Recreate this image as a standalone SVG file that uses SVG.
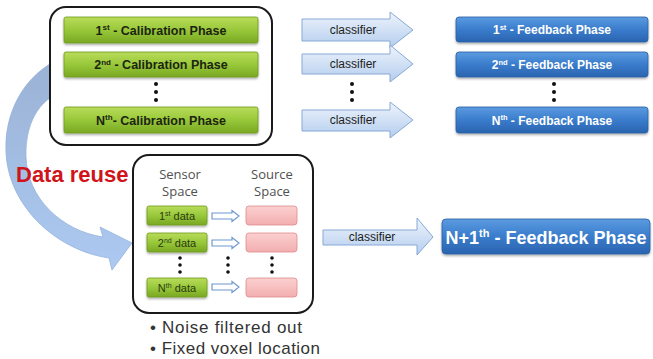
<svg xmlns="http://www.w3.org/2000/svg" width="653" height="359" viewBox="0 0 653 359">
  <defs>
    <linearGradient id="gGreen" x1="0" y1="0" x2="0" y2="1">
      <stop offset="0" stop-color="#b9dc5a"/>
      <stop offset="0.5" stop-color="#98c83a"/>
      <stop offset="1" stop-color="#79a822"/>
    </linearGradient>
    <linearGradient id="gBlue" x1="0" y1="0" x2="0" y2="1">
      <stop offset="0" stop-color="#5b9be0"/>
      <stop offset="0.5" stop-color="#3a7ccc"/>
      <stop offset="1" stop-color="#2a64b0"/>
    </linearGradient>
    <linearGradient id="gArrow" x1="0" y1="0" x2="0" y2="1">
      <stop offset="0" stop-color="#eef4fc"/>
      <stop offset="1" stop-color="#b4cdee"/>
    </linearGradient>
    <linearGradient id="gPink" x1="0" y1="0" x2="0" y2="1">
      <stop offset="0" stop-color="#fbd0d0"/>
      <stop offset="1" stop-color="#f3aeb0"/>
    </linearGradient>
    <linearGradient id="gCurve" x1="0" y1="0" x2="0" y2="1">
      <stop offset="0" stop-color="#95aed2"/>
      <stop offset="1" stop-color="#a9c7f2"/>
    </linearGradient>
    <filter id="shadow" x="-10%" y="-20%" width="120%" height="160%">
      <feDropShadow dx="0" dy="1.5" stdDeviation="1.2" flood-color="#000" flood-opacity="0.35"/>
    </filter>
    <style>
      .frame { fill: #ffffff; stroke: #1a1a1a; stroke-width: 2; }
      .green { fill: url(#gGreen); stroke: #6e9a1e; stroke-width: 0.8; filter: url(#shadow); }
      .blue { fill: url(#gBlue); stroke: #2b5fa4; stroke-width: 0.8; filter: url(#shadow); }
      .pink { fill: url(#gPink); stroke: #de8a8c; stroke-width: 0.8; }
      .clsArrow { fill: url(#gArrow); stroke: #86a8d6; stroke-width: 1; }
      .smallArrow { fill: #ffffff; stroke: #6f98d2; stroke-width: 1.2; }
      .tCal { font-family: "Liberation Sans", Arial, sans-serif; font-weight: bold; font-size: 12.5px; fill: #1c2410; text-anchor: middle; }
      .tFb { font-family: "Liberation Sans", Arial, sans-serif; font-weight: bold; font-size: 12px; fill: #ffffff; text-anchor: middle; }
      .tFbBig { font-family: "Liberation Sans", Arial, sans-serif; font-weight: bold; font-size: 18px; fill: #ffffff; text-anchor: middle; }
      .tCls { font-family: "Liberation Sans", Arial, sans-serif; font-size: 12px; fill: #1e1e1e; text-anchor: middle; }
      .tData { font-family: "Liberation Sans", Arial, sans-serif; font-size: 11px; fill: #2c3a12; text-anchor: middle; }
      .tSpace { font-family: "Open Sans", "Liberation Sans", sans-serif; font-size: 13px; fill: #505050; text-anchor: middle; }
      .tBullet { font-family: "Liberation Sans", Arial, sans-serif; font-size: 17px; fill: #333333; }
      .tReuse { font-family: "Liberation Sans", Arial, sans-serif; font-weight: bold; font-size: 22px; fill: #d0141a; }
      .dot { fill: #111111; }
    </style>
  </defs>

  <!-- curved "data reuse" arrow, drawn first so the frames sit over its tail -->
  <g id="reuse-arrow">
    <path d="M62,58 C25,73 4,112 6,152 C8,205 55,250 109,258 L112,270 L132,243 L100,227 L103,237 C62,231 27,198 26,157 C25,125 38,100 62,92 Z" fill="url(#gCurve)" stroke="#8eaedc" stroke-width="0.8" opacity="0.95"/>
  </g>

  <!-- calibration group -->
  <g id="calibration">
    <rect class="frame" x="50" y="7" width="222" height="138" rx="16"/>
    <rect class="green" x="64" y="17" width="194" height="26" rx="2"/>
    <text class="tCal" x="161" y="34.5">1<tspan font-size="8" dy="-4.5">st</tspan><tspan dy="4.5"> - Calibration Phase</tspan></text>
    <rect class="green" x="64" y="52" width="194" height="25" rx="2"/>
    <text class="tCal" x="161" y="69">2<tspan font-size="8" dy="-4.5">nd</tspan><tspan dy="4.5"> - Calibration Phase</tspan></text>
    <circle class="dot" cx="156" cy="84" r="2"/>
    <circle class="dot" cx="156" cy="92" r="2"/>
    <circle class="dot" cx="156" cy="100" r="2"/>
    <rect class="green" x="64" y="107" width="194" height="26" rx="2"/>
    <text class="tCal" x="161" y="124.5">N<tspan font-size="8" dy="-4.5">th</tspan><tspan dy="4.5">- Calibration Phase</tspan></text>
  </g>

  <!-- classifier arrows, upper rows -->
  <g id="classifiers">
    <path class="clsArrow" d="M302,19 H390 V12 L413,30 L390,48 V41 H302 Z"/>
    <text class="tCls" x="353" y="34">classifier</text>
    <path class="clsArrow" d="M302,54 H390 V45 L413,64 L390,82 V74 H302 Z"/>
    <text class="tCls" x="353" y="68">classifier</text>
    <circle class="dot" cx="352" cy="84" r="2"/>
    <circle class="dot" cx="352" cy="92" r="2"/>
    <circle class="dot" cx="352" cy="100" r="2"/>
    <path class="clsArrow" d="M302,110 H390 V102 L413,120 L390,138 V131 H302 Z"/>
    <text class="tCls" x="353" y="124">classifier</text>
  </g>

  <!-- feedback phases -->
  <g id="feedback">
    <rect class="blue" x="456" y="17" width="192" height="25" rx="3"/>
    <text class="tFb" x="552" y="34">1<tspan font-size="7.5" dy="-4.5">st</tspan><tspan dy="4.5"> - Feedback Phase</tspan></text>
    <rect class="blue" x="456" y="52" width="192" height="25" rx="3"/>
    <text class="tFb" x="552" y="69">2<tspan font-size="7.5" dy="-4.5">nd</tspan><tspan dy="4.5"> - Feedback Phase</tspan></text>
    <circle class="dot" cx="554" cy="84" r="2"/>
    <circle class="dot" cx="554" cy="92" r="2"/>
    <circle class="dot" cx="554" cy="100" r="2"/>
    <rect class="blue" x="456" y="107" width="192" height="26" rx="3"/>
    <text class="tFb" x="552" y="124.5">N<tspan font-size="7.5" dy="-4.5">th</tspan><tspan dy="4.5">  - Feedback Phase</tspan></text>
  </g>

  <!-- label on the curved arrow -->
  <g id="reuse-label">
    <text class="tReuse" x="16" y="182">Data reuse</text>
  </g>

  <!-- sensor / source space group -->
  <g id="spaces">
    <rect class="frame" x="133" y="155" width="180" height="158" rx="16"/>
    <text class="tSpace" x="180" y="179">Sensor</text>
    <text class="tSpace" x="180" y="196">Space</text>
    <text class="tSpace" x="272" y="179">Source</text>
    <text class="tSpace" x="272" y="196">Space</text>

    <rect class="green" x="147" y="206" width="60" height="19" rx="2"/>
    <text class="tData" x="177" y="219.5">1<tspan font-size="7" dy="-3.5">st</tspan><tspan dy="3.5"> data</tspan></text>
    <rect class="green" x="147" y="233" width="60" height="19" rx="2"/>
    <text class="tData" x="177" y="246.5">2<tspan font-size="7" dy="-3.5">nd</tspan><tspan dy="3.5"> data</tspan></text>
    <rect class="green" x="147" y="278" width="60" height="19" rx="2"/>
    <text class="tData" x="177" y="291.5">N<tspan font-size="7" dy="-3.5">th</tspan><tspan dy="3.5"> data</tspan></text>

    <path class="smallArrow" d="M212,213 H232 V210.5 L239,216 L232,221.5 V219 H212 Z"/>
    <path class="smallArrow" d="M212,240 H232 V237.5 L239,243 L232,248.5 V246 H212 Z"/>
    <path class="smallArrow" d="M212,284 H232 V281.5 L239,287 L232,292.5 V290 H212 Z"/>

    <rect class="pink" x="246" y="206" width="51" height="19" rx="3"/>
    <rect class="pink" x="246" y="233" width="51" height="19" rx="3"/>
    <rect class="pink" x="246" y="278" width="51" height="19" rx="3"/>

    <circle class="dot" cx="180" cy="258" r="1.8"/>
    <circle class="dot" cx="180" cy="265" r="1.8"/>
    <circle class="dot" cx="180" cy="272" r="1.8"/>
    <circle class="dot" cx="228" cy="258" r="1.8"/>
    <circle class="dot" cx="228" cy="265" r="1.8"/>
    <circle class="dot" cx="228" cy="272" r="1.8"/>
    <circle class="dot" cx="272" cy="258" r="1.8"/>
    <circle class="dot" cx="272" cy="265" r="1.8"/>
    <circle class="dot" cx="272" cy="272" r="1.8"/>
  </g>

  <!-- notes under the group -->
  <g id="notes">
    <text class="tBullet" x="150" y="333" textLength="152" lengthAdjust="spacing">• Noise filtered out</text>
    <text class="tBullet" x="150" y="354" textLength="170" lengthAdjust="spacing">• Fixed voxel location</text>
  </g>

  <!-- final classifier and feedback -->
  <g id="classifier-final">
    <path class="clsArrow" d="M323,230 H417 V218 L433,237 L417,255 V245 H323 Z"/>
    <text class="tCls" x="372" y="241">classifier</text>
  </g>
  <g id="feedback-final">
    <rect class="blue" x="442" y="219" width="208" height="35" rx="4"/>
    <text class="tFbBig" x="546" y="243.5">N+1<tspan font-size="11" dy="-6.5">th</tspan><tspan dy="6.5"> - Feedback Phase</tspan></text>
  </g>
</svg>
